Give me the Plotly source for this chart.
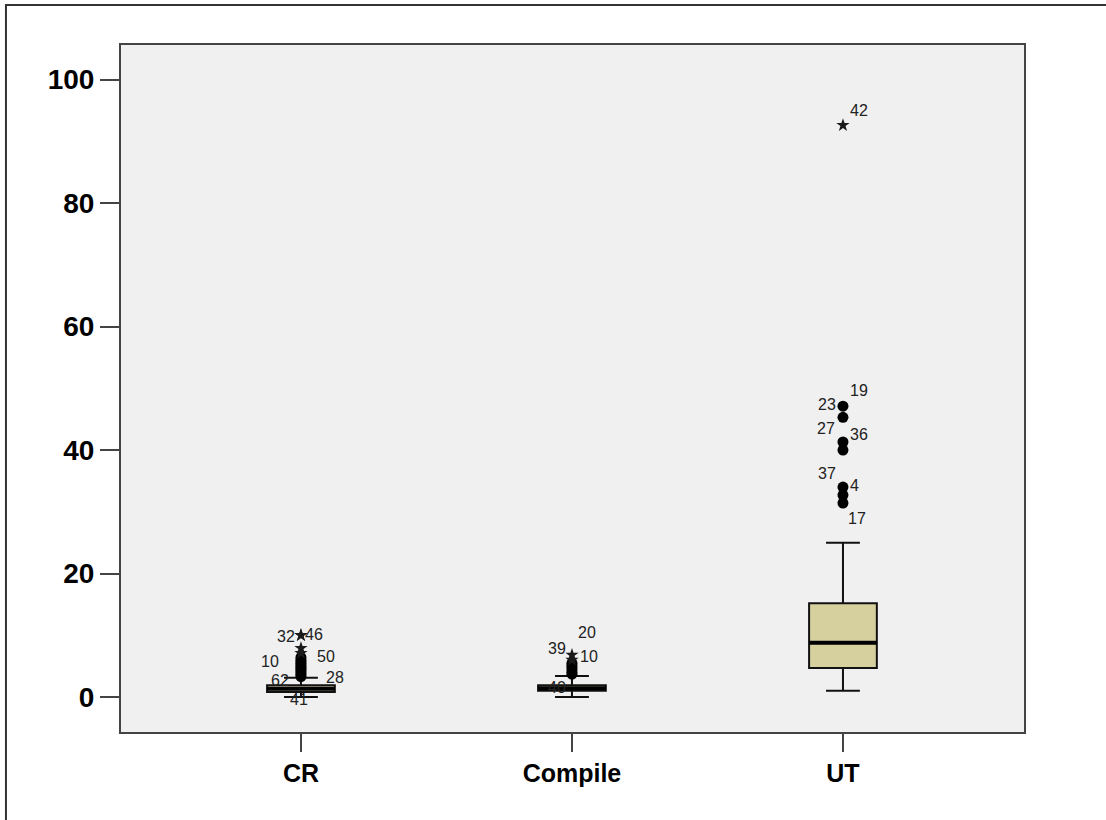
import plotly.graph_objects as go

# Summary statistics per group
categories = ["CR", "Compile", "UT"]
q1 = [0.8, 1.0, 4.7]
median = [1.35, 1.4, 8.8]
q3 = [1.9, 1.9, 15.2]
lower_fence = [0.0, 0.0, 1.0]
upper_fence = [3.1, 3.4, 25.0]

# Outliers (circles) and extreme values (stars)
cr_outliers = [3.3, 3.6, 3.9, 4.2, 4.5, 4.8, 5.1, 5.4, 5.7, 6.0, 6.4]
compile_outliers = [3.7, 4.0, 4.4, 4.8, 5.2, 5.5]
ut_outliers = [31.4, 32.7, 34.0, 40.0, 41.3, 45.3, 47.1]
cr_extremes = [7.1, 7.9, 10.0, 10.0]
compile_extremes = [6.0, 6.8]
ut_extremes = [92.6]

# Case labels: (case id, value of the labelled point)
cr_labels = [("32", 10.0), ("46", 10.0), ("50", 7.1), ("10", 5.7), ("62", 3.3), ("28", 3.3), ("41", 0.0)]
compile_labels = [("20", 6.8), ("39", 6.8), ("10", 6.0), ("40", 0.0)]
ut_labels = [("42", 92.6), ("19", 47.1), ("23", 45.3), ("36", 40.0), ("27", 41.3),
             ("37", 34.0), ("4", 32.7), ("17", 31.4)]

y_ticks = [0, 20, 40, 60, 80, 100]

# Pixel offsets of the case labels from their points
cr_label_shift = [(-15, -1), (13, 1), (25, -3), (-31, 0), (-21, -4), (34, -1), (-2, -3)]
compile_label_shift = [(15, 23), (-15, 7), (17, 3), (-15, 9)]
ut_label_shift = [(16, 15), (16, 16), (-16, 13), (16, 16), (-17, 14), (-16, 14), (12, 10), (14, -15)]

BOX_W = 0.25
FILL = "#d6d09e"

fig = go.Figure()

for i, cat in enumerate(categories):
    fig.add_trace(go.Box(
        x=[i], q1=[q1[i]], median=[median[i]], q3=[q3[i]],
        lowerfence=[lower_fence[i]], upperfence=[upper_fence[i]],
        width=BOX_W, whiskerwidth=0.5, fillcolor=FILL,
        line=dict(color="#111111", width=2), boxpoints=False,
        showlegend=False, hoverinfo="skip",
    ))
    # heavier median bar
    fig.add_trace(go.Scatter(
        x=[i - BOX_W / 2, i + BOX_W / 2], y=[median[i], median[i]],
        mode="lines", line=dict(color="black", width=4),
        showlegend=False, hoverinfo="skip",
    ))

outliers = [cr_outliers, compile_outliers, ut_outliers]
extremes = [cr_extremes, compile_extremes, ut_extremes]
for i in range(len(categories)):
    fig.add_trace(go.Scatter(
        x=[i] * len(outliers[i]), y=outliers[i], mode="markers",
        marker=dict(symbol="circle", size=11, color="black"),
        showlegend=False, hoverinfo="skip",
    ))
    fig.add_trace(go.Scatter(
        x=[i] * len(extremes[i]), y=extremes[i], mode="markers",
        marker=dict(symbol="star", size=10, color="#1a1a1a"),
        showlegend=False, hoverinfo="skip",
    ))

all_labels = [cr_labels, compile_labels, ut_labels]
all_shifts = [cr_label_shift, compile_label_shift, ut_label_shift]
for i in range(len(categories)):
    for (case_id, val), (dx, dy) in zip(all_labels[i], all_shifts[i]):
        fig.add_annotation(
            x=i, y=val, text=case_id, showarrow=False,
            xshift=dx, yshift=dy,
            font=dict(family="Liberation Sans, Arial, sans-serif", size=16, color="#222222"),
        )

# outer frame around the whole chart
fig.add_shape(type="rect", xref="paper", yref="paper",
              x0=-0.1274, y0=-0.3, x1=1.2, y1=1.0582,
              line=dict(color="#333333", width=2), fillcolor="rgba(0,0,0,0)", layer="below")

tick_font = dict(family="Liberation Sans, Arial, sans-serif", size=28, color="black", weight="bold")

fig.update_layout(
    width=1106, height=820,
    margin=dict(l=121, r=82, t=45, b=88),
    paper_bgcolor="white", plot_bgcolor="#f0f0f0",
    xaxis=dict(
        range=[-0.664, 2.668], tickvals=[0, 1, 2], ticktext=categories,
        showgrid=False, zeroline=False, showline=True, mirror=True,
        linecolor="#444444", linewidth=2, ticks="outside", ticklen=18,
        tickwidth=2, tickcolor="#444444", tickfont=dict(tick_font, size=25),
    ),
    yaxis=dict(
        range=[-5.67, 105.6], tickvals=y_ticks,
        showgrid=False, zeroline=False, showline=True, mirror=True,
        linecolor="#444444", linewidth=2, ticks="outside", ticklen=19,
        tickwidth=2, tickcolor="#444444", tickfont=tick_font,
    ),
)

fig.write_html("out.html")
